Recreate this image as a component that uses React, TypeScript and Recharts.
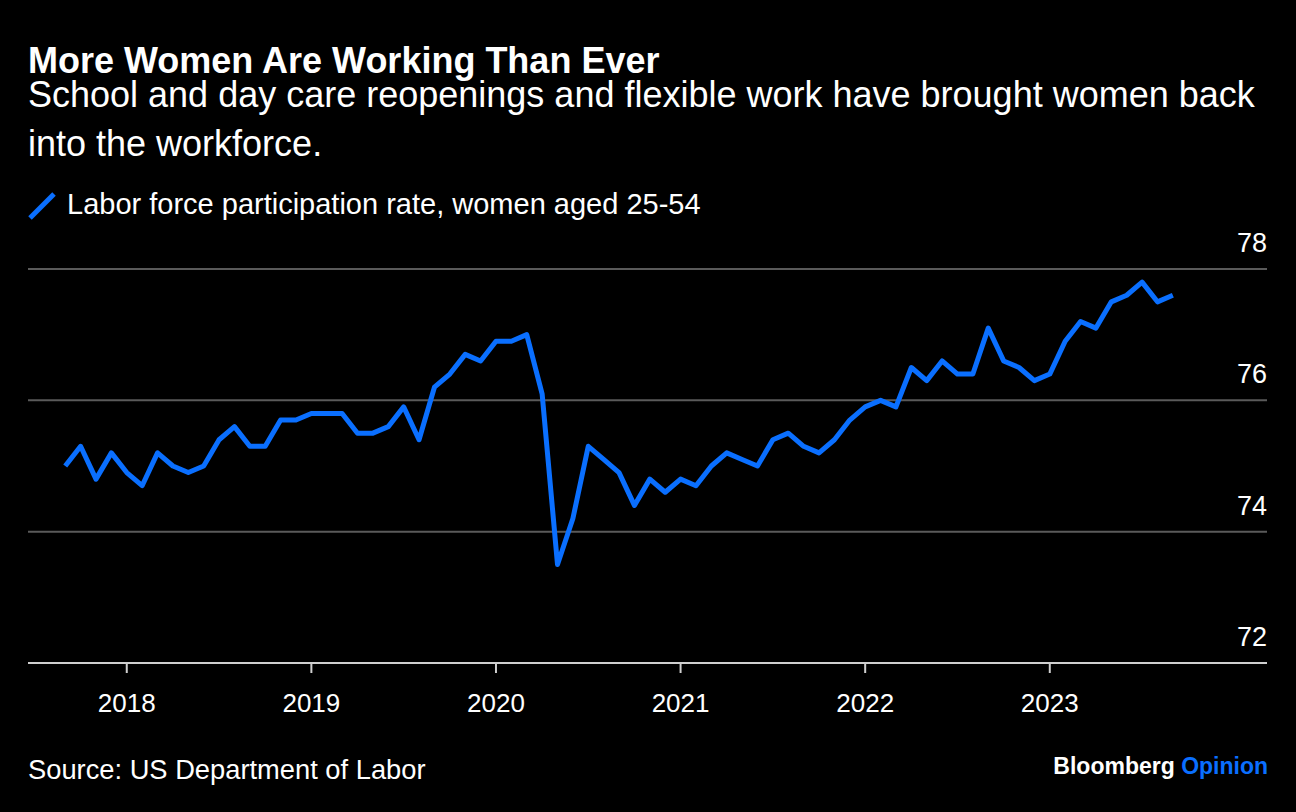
import { CartesianGrid, Line, LineChart, XAxis, YAxis } from 'recharts';

// Monthly readings, Aug 2017 through Aug 2023 (plotted at month end)
const firstMonth = { year: 2017, month: 7 };
const participation = [
  75.0, 75.3, 74.8, 75.2, 74.9, 74.7, 75.2, 75.0, 74.9, 75.0, 75.4, 75.6,
  75.3, 75.3, 75.7, 75.7, 75.8, 75.8, 75.8, 75.5, 75.5, 75.6, 75.9, 75.4,
  76.2, 76.4, 76.7, 76.6, 76.9, 76.9, 77.0, 76.1, 73.5, 74.2, 75.3, 75.1,
  74.9, 74.4, 74.8, 74.6, 74.8, 74.7, 75.0, 75.2, 75.1, 75.0, 75.4, 75.5,
  75.3, 75.2, 75.4, 75.7, 75.9, 76.0, 75.9, 76.5, 76.3, 76.6, 76.4, 76.4,
  77.1, 76.6, 76.5, 76.3, 76.4, 76.9, 77.2, 77.1, 77.5, 77.6, 77.8, 77.5,
  77.6
];
const yearLabels = ['2018', '2019', '2020', '2021', '2022', '2023'];
const yearTickIndex = [4, 16, 28, 40, 52, 64];
const yTicks = [72, 74, 76, 78];

const monthNames = ['Jan', 'Feb', 'Mar', 'Apr', 'May', 'Jun', 'Jul', 'Aug', 'Sep', 'Oct', 'Nov', 'Dec'];

const data = participation.map((value, i) => {
  const m = firstMonth.month + i;
  return {
    x: i,
    month: `${monthNames[m % 12]} ${firstMonth.year + Math.floor(m / 12)}`,
    value
  };
});

const BLUE = '#0a6fff';
const FONT = '"Liberation Sans", Arial, Helvetica, sans-serif';
const PLOT_RIGHT = 1267;

function YTick(props: any) {
  const { y, payload } = props;
  return (
    <text x={PLOT_RIGHT} y={y - 17} textAnchor="end" fill="#ffffff" fontSize={27} fontFamily={FONT}>
      {payload.value}
    </text>
  );
}

function XTick(props: any) {
  const { x, y, payload } = props;
  const idx = yearTickIndex.indexOf(payload.value);
  return (
    <text x={x} y={y + 39} textAnchor="middle" fill="#ffffff" fontSize={26} fontFamily={FONT}>
      {yearLabels[idx]}
    </text>
  );
}

export default function App() {
  return (
    <div
      style={{
        position: 'absolute',
        left: 0,
        top: 0,
        width: 1296,
        height: 812,
        background: '#000',
        color: '#fff',
        fontFamily: FONT,
        overflow: 'hidden'
      }}
    >
      <div style={{ position: 'absolute', left: 0, top: 0 }}>
        <LineChart
          width={1296}
          height={812}
          data={data}
          margin={{ top: 269, right: 28, left: 28, bottom: 89 }}
        >
          <CartesianGrid vertical={false} stroke="#5a5a5a" strokeWidth={2} />
          <XAxis
            dataKey="x"
            type="number"
            domain={[-2.42, 78.12]}
            allowDataOverflow
            ticks={yearTickIndex}
            interval={0}
            height={60}
            axisLine={{ stroke: '#cfcfcf', strokeWidth: 2 }}
            tickLine={{ stroke: '#cfcfcf', strokeWidth: 2 }}
            tickSize={10}
            tickMargin={0}
            tick={<XTick />}
          />
          <YAxis
            orientation="right"
            domain={[72, 78]}
            ticks={yTicks}
            interval={0}
            allowDataOverflow
            width={1}
            axisLine={false}
            tickLine={false}
            tickSize={0}
            tickMargin={0}
            tick={<YTick />}
          />
          <Line
            type="linear"
            dataKey="value"
            stroke={BLUE}
            strokeWidth={5}
            strokeLinejoin="round"
            dot={false}
            isAnimationActive={false}
          />
        </LineChart>
      </div>

      <div
        style={{
          position: 'absolute',
          left: 28,
          top: 46,
          fontSize: 36,
          lineHeight: '30px',
          fontWeight: 700,
          whiteSpace: 'nowrap'
        }}
      >
        More Women Are Working Than Ever
      </div>
      <div
        style={{
          position: 'absolute',
          left: 28,
          top: 77,
          fontSize: 36,
          lineHeight: '36px',
          whiteSpace: 'nowrap'
        }}
      >
        School and day care reopenings and flexible work have brought women back
      </div>
      <div
        style={{
          position: 'absolute',
          left: 28,
          top: 126,
          fontSize: 36,
          lineHeight: '36px',
          whiteSpace: 'nowrap'
        }}
      >
        into the workforce.
      </div>

      <svg style={{ position: 'absolute', left: 26, top: 190 }} width={32} height={32}>
        <line x1={4} y1={28} x2={28} y2={4} stroke={BLUE} strokeWidth={5} />
      </svg>
      <div
        style={{
          position: 'absolute',
          left: 67,
          top: 190,
          fontSize: 29,
          lineHeight: '29px',
          whiteSpace: 'nowrap'
        }}
      >
        Labor force participation rate, women aged 25-54
      </div>

      <div
        style={{
          position: 'absolute',
          left: 28,
          top: 756,
          fontSize: 27.3,
          lineHeight: '27px',
          whiteSpace: 'nowrap'
        }}
      >
        Source: US Department of Labor
      </div>
      <div
        style={{
          position: 'absolute',
          right: 28,
          top: 755,
          fontSize: 23,
          lineHeight: '23px',
          fontWeight: 700,
          whiteSpace: 'nowrap'
        }}
      >
        Bloomberg <span style={{ color: BLUE }}>Opinion</span>
      </div>
    </div>
  );
}
